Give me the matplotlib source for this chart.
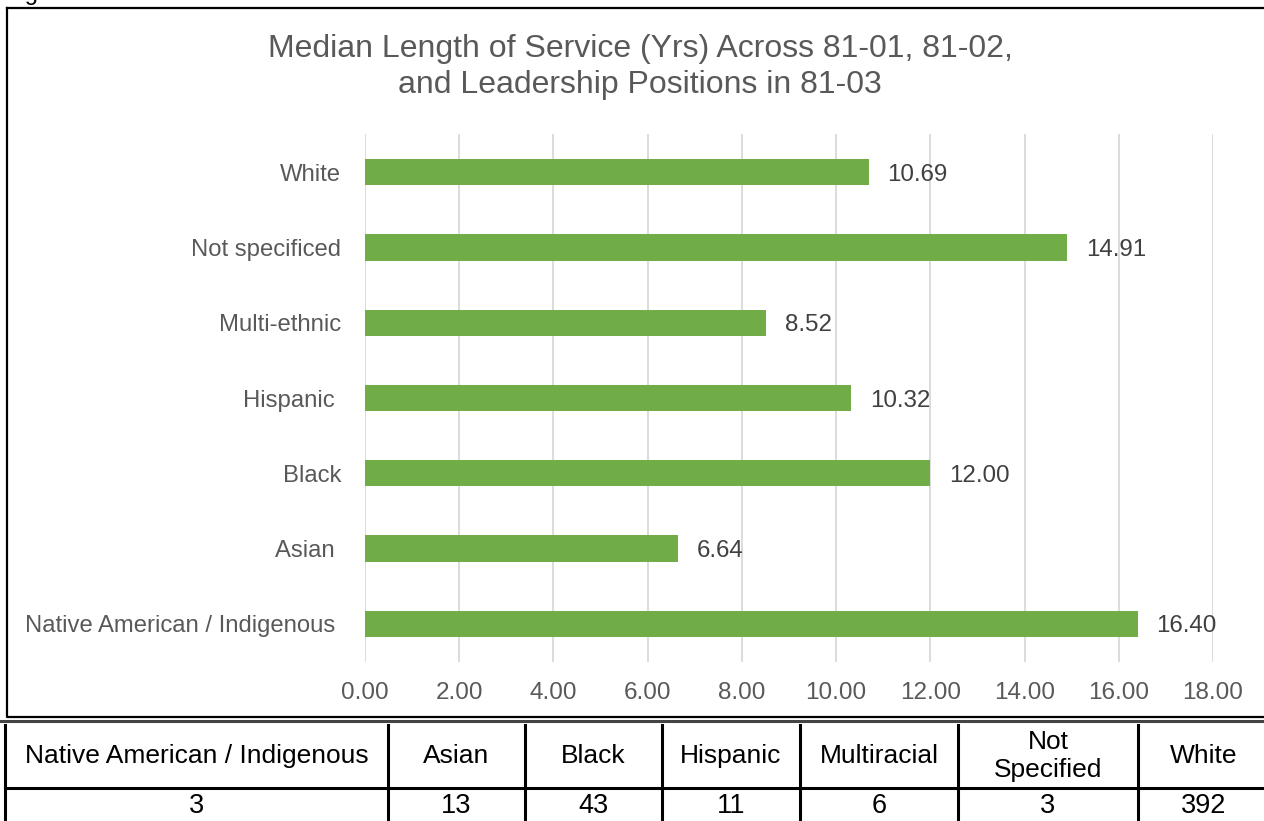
import matplotlib
matplotlib.use("Agg")
import matplotlib.pyplot as plt

plt.rcParams['font.family'] = ['Liberation Sans', 'DejaVu Sans']

# median length of service by group (bar chart, bottom to top)
groups = ['Native American / Indigenous ', 'Asian ', 'Black', 'Hispanic ',
          'Multi-ethnic', 'Not specificed', 'White']
median_years = [16.40, 6.64, 12.00, 10.32, 8.52, 14.91, 10.69]

# headcount table under the chart
table_headers = ['Native American / Indigenous', 'Asian', 'Black', 'Hispanic',
                 'Multiracial', 'Not\nSpecified', 'White']
table_counts = [3, 13, 43, 11, 6, 3, 392]

xticks = [0, 2, 4, 6, 8, 10, 12, 14, 16, 18]

W, H = 1264, 821
fig = plt.figure(figsize=(W / 100, H / 100), dpi=100)

# overlay in pixel coords for frame, table and caption
ov = fig.add_axes([0, 0, 1, 1])
ov.set_xlim(0, W)
ov.set_ylim(H, 0)
ov.axis('off')

green = '#70AD47'
grey = '#595959'

# chart frame
ov.plot([7, 7, W + 5, W + 5, 7], [8, 717, 717, 8, 8], color='black', lw=1.6)
ov.text(5, 5, 'Figure 5', fontsize=17, ha='left', va='bottom', color='black')

ov.text(640, 67, 'Median Length of Service (Yrs) Across 81-01, 81-02,\nand Leadership Positions in 81-03',
        fontsize=23, color=grey, ha='center', va='center', linespacing=1.3)

# bars
ax = fig.add_axes([365 / W, 1 - 661.6 / H, (1213 - 365) / W, (661.6 - 134.4) / H])
ypos = list(range(len(groups)))
ax.barh(ypos, median_years, height=0.35, color=green, zorder=3)
ax.set_xlim(0, 18)
ax.set_ylim(-0.5, len(groups) - 0.5)
ax.set_xticks(xticks)
ax.set_xticklabels([f'{t:.2f}' for t in xticks], fontsize=17.5, color=grey)
ax.set_yticks(ypos)
ax.set_yticklabels(groups, fontsize=17.2, color=grey)
ax.tick_params(length=0)
ax.tick_params(axis='x', pad=15)
ax.tick_params(axis='y', pad=17)
ax.grid(axis='x', color='#D9D9D9', lw=1.3, zorder=0)
for s in ax.spines.values():
    s.set_visible(False)
ax.patch.set_alpha(0)
for y, v in zip(ypos, median_years):
    ax.text(v + 0.4, y, f'{v:.2f}', va='center_baseline', ha='left', fontsize=17.4, color='#404040')

# table
col_edges = [5, 388, 525, 662, 800, 958, 1138, W + 5]
ov.plot([0, W], [721, 721], color='#444444', lw=2.2)
for x in col_edges:
    ov.plot([x, x], [725, H + 5], color='black', lw=2.2)
ov.plot([5, W], [788, 788], color='black', lw=2.2)
for i in range(len(table_headers)):
    cx = (col_edges[i] + col_edges[i + 1]) / 2
    ov.text(cx, 756, table_headers[i], fontsize=19, ha='center', va='center',
            color='black', linespacing=1.2)
    ov.text(cx, 806, str(table_counts[i]), fontsize=19.5, ha='center', va='center', color='black')

fig.savefig('out.png', dpi=100)
